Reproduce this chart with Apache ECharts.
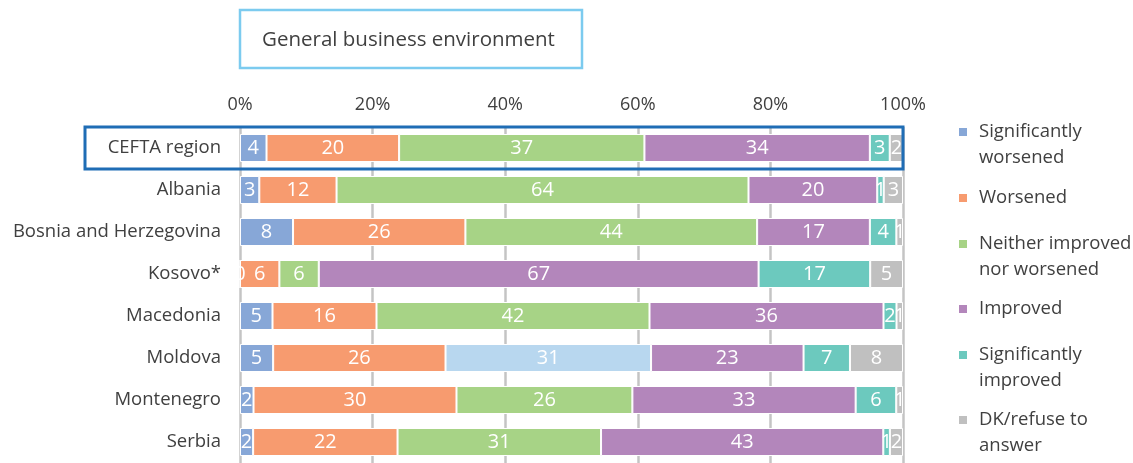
<!DOCTYPE html>
<html>
<head>
<meta charset="utf-8">
<script src="https://cdn.jsdelivr.net/npm/echarts@6/dist/echarts.min.js"></script>
<style>
  html, body { margin: 0; padding: 0; background: #fff; }
  #chart { width: 1133px; height: 463px; }
</style>
</head>
<body>
<div id="chart"></div>
<script>
// categories (top to bottom)
const categories = ['CEFTA region', 'Albania', 'Bosnia and Herzegovina', 'Kosovo*', 'Macedonia', 'Moldova', 'Montenegro', 'Serbia'];
const tickLabels = ['0%', '20%', '40%', '60%', '80%', '100%'];

// shares as printed on the bars (rounded, so rows don't always sum to 100)
const sigWorsened = [4, 3, 8, 0, 5, 5, 2, 2];
const worsened = [20, 12, 26, 6, 16, 26, 30, 22];
const neither = [37, 64, 44, 6, 42, 31, 26, 31];
const improved = [34, 20, 17, 67, 36, 23, 33, 43];
const sigImproved = [3, 1, 4, 17, 2, 7, 6, 1];
const dkRefuse = [2, 3, 1, 5, 1, 8, 1, 2];

const seriesNames = ['Significantly\nworsened', 'Worsened', 'Neither improved\nnor worsened', 'Improved', 'Significantly\nimproved', 'DK/refuse to\nanswer'];
const seriesColors = ['#87a7d7', '#f79b6f', '#a7d386', '#b386bb', '#6cc9be', '#c0c0c0'];
const rawValues = [sigWorsened, worsened, neither, improved, sigImproved, dkRefuse];

const FONT = 'Open Sans';
const TEXT = '#404040';

// row totals, to draw each row as 100%
const rowTotals = categories.map((c, i) => rawValues.reduce((s, arr) => s + arr[i], 0));

const chart = echarts.init(document.getElementById('chart'));

const legendTops = [93, 185, 205, 296, 316, 381];

const option = {
  animation: false,
  textStyle: { fontFamily: FONT },
  grid: { left: 240, right: 230, top: 127, bottom: -6 },
  xAxis: {
    type: 'value',
    position: 'top',
    min: 0,
    max: 100,
    interval: 20,
    axisLine: { show: false },
    axisTick: { show: false },
    axisLabel: {
      margin: 13,
      fontSize: 18,
      color: TEXT,
      fontFamily: FONT,
      formatter: v => tickLabels[v / 20]
    },
    splitLine: { lineStyle: { color: '#c4c4c4', width: 2.5 } }
  },
  yAxis: {
    type: 'category',
    data: categories,
    inverse: true,
    axisLine: { show: false },
    axisTick: { show: false },
    axisLabel: { margin: 19, fontSize: 18.5, color: TEXT, fontFamily: FONT }
  },
  legend: seriesNames.map((name, i) => {
    const twoLines = name.indexOf('\n') >= 0;
    return {
      data: [name],
      orient: 'vertical',
      left: 957,
      top: legendTops[i],
      padding: 0,
      icon: 'rect',
      itemWidth: 10,
      itemHeight: 10,
      selectedMode: false,
      // blank first line so the marker sits level with the first text line
      formatter: n => (twoLines ? ' \n' : '') + n,
      textStyle: {
        fontFamily: FONT,
        fontSize: 18.5,
        lineHeight: 26,
        color: TEXT,
        padding: [0, 0, 0, 6]
      }
    };
  }),
  series: rawValues.map((arr, s) => ({
    name: seriesNames[s],
    type: 'bar',
    stack: 'total',
    barWidth: 28,
    itemStyle: { color: seriesColors[s], borderColor: '#fff', borderWidth: 1 },
    label: {
      show: true,
      position: 'inside',
      color: '#fff',
      fontSize: 20,
      fontFamily: FONT,
      formatter: p => rawValues[p.seriesIndex][p.dataIndex]
    },
    data: arr.map((v, i) => {
      const item = { value: v / rowTotals[i] * 100 };
      // Moldova's middle segment is drawn in light blue in the source
      if (s === 2 && categories[i] === 'Moldova') item.itemStyle = { color: '#b8d7ef' };
      return item;
    })
  }))
};

chart.setOption(option);

// title box and the frame round the CEFTA row
const xEnd = chart.convertToPixel({ xAxisIndex: 0 }, 100);
const yTop = chart.convertToPixel({ yAxisIndex: 0 }, categories[0]);
const yNext = chart.convertToPixel({ yAxisIndex: 0 }, categories[1]);
const band = yNext - yTop;

chart.setOption({
  graphic: [
    {
      type: 'rect',
      shape: { x: 240, y: 10, width: 342, height: 58 },
      style: { fill: '#fff', stroke: '#7ccbef', lineWidth: 2.5 }
    },
    {
      type: 'text',
      x: 262,
      y: 40,
      style: { text: 'General business environment', fill: TEXT, font: '20.5px "' + FONT + '"', verticalAlign: 'middle' }
    },
    {
      type: 'rect',
      z: 10,
      shape: { x: 85, y: yTop - band / 2, width: xEnd - 85, height: band },
      style: { fill: 'none', stroke: '#1f6db5', lineWidth: 3 }
    }
  ]
});
</script>
</body>
</html>
